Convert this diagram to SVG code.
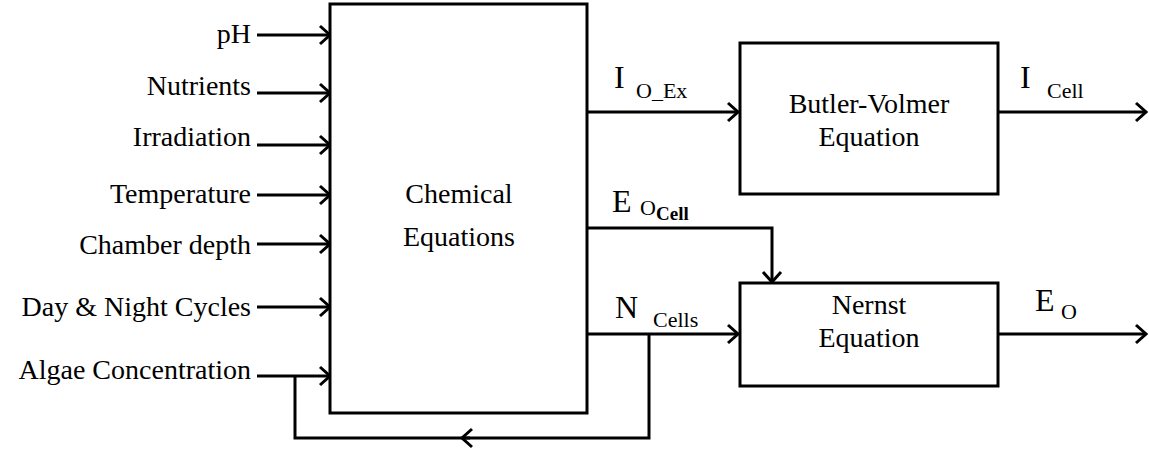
<svg xmlns="http://www.w3.org/2000/svg" width="1149" height="459" viewBox="0 0 1149 459">
<defs>
<marker id="ah" viewBox="0 0 14 22" refX="12" refY="11" markerWidth="14" markerHeight="22" markerUnits="userSpaceOnUse" orient="auto">
<path d="M2,2 L12,11 L2,20" fill="none" stroke="#000" stroke-width="3"/>
</marker>
<style>
.box{fill:#fff;stroke:#000;stroke-width:3}
.ln{fill:none;stroke:#000;stroke-width:3}
.ar{fill:none;stroke:#000;stroke-width:3;marker-end:url(#ah)}
text{font-family:"Liberation Serif","Times New Roman",serif;fill:#000}
.t{font-size:28px}
.in{text-anchor:end}
.c{text-anchor:middle}
.big{font-size:32px}
.sub{font-size:22px}
.bsub{font-size:19px;font-weight:bold}
</style>
</defs>
<g id="connectors">
<line class="ar" x1="257" y1="35" x2="330" y2="35"/>
<line class="ar" x1="257" y1="93" x2="330" y2="93"/>
<line class="ar" x1="257" y1="145" x2="330" y2="145"/>
<line class="ar" x1="257" y1="195" x2="330" y2="195"/>
<line class="ar" x1="257" y1="244" x2="330" y2="244"/>
<line class="ar" x1="257" y1="307" x2="330" y2="307"/>
<line class="ar" x1="257" y1="376" x2="330" y2="376"/>
<line class="ar" x1="587" y1="112" x2="738" y2="112"/>
<line class="ar" x1="998" y1="112" x2="1146" y2="112"/>
<polyline class="ar" points="587,228 772,228 772,282"/>
<line class="ar" x1="587" y1="334" x2="738" y2="334"/>
<line class="ar" x1="998" y1="334" x2="1146" y2="334"/>
<polyline class="ar" points="649,334 649,438 462,438"/>
<polyline class="ln" points="470,438 295,438 295,376"/>
</g>
<g id="inputs">
<text class="t in" x="251" y="43">pH</text>
<text class="t in" x="251" y="95">Nutrients</text>
<text class="t in" x="251" y="146">Irradiation</text>
<text class="t in" x="251" y="203">Temperature</text>
<text class="t in" x="251" y="254">Chamber depth</text>
<text class="t in" x="251" y="316">Day &amp; Night Cycles</text>
<text class="t in" x="251" y="379">Algae Concentration</text>
</g>
<g id="chemical">
<rect class="box" x="330" y="4" width="257" height="409"/>
<text class="t c" x="459" y="203">Chemical</text>
<text class="t c" x="459" y="246">Equations</text>
</g>
<g id="butler-volmer">
<rect class="box" x="740" y="43" width="258" height="151"/>
<text class="t c" x="869" y="113">Butler-Volmer</text>
<text class="t c" x="869" y="146">Equation</text>
</g>
<g id="nernst">
<rect class="box" x="740" y="283" width="258" height="103"/>
<text class="t c" x="869" y="314">Nernst</text>
<text class="t c" x="869" y="347">Equation</text>
</g>
<g id="labels">
<text class="big" x="614" y="88">I</text>
<text class="sub" x="636" y="98">O_Ex</text>
<text class="big" x="1020" y="88">I</text>
<text class="sub" x="1047" y="98">Cell</text>
<text class="big" x="612" y="212">E</text>
<text class="sub" x="640" y="215">O</text>
<text class="bsub" x="656" y="220">Cell</text>
<text class="big" x="615" y="318">N</text>
<text class="sub" x="653" y="327">Cells</text>
<text class="big" x="1035" y="311">E</text>
<text class="sub" x="1061" y="319">O</text>
</g>
</svg>
